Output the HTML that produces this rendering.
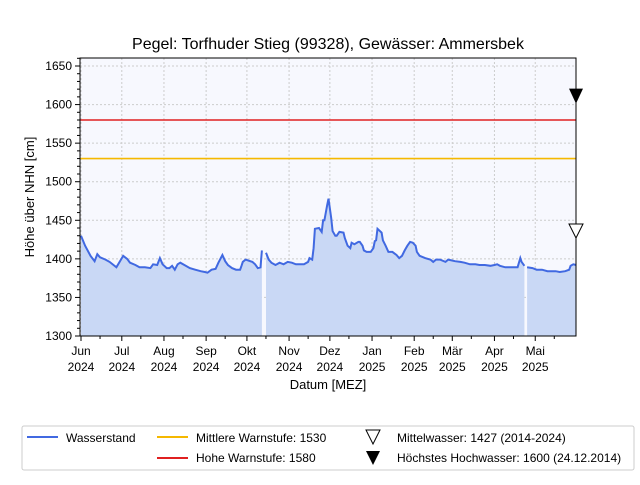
<!DOCTYPE html>
<html><head><meta charset="utf-8"><style>
body{margin:0;background:#fff}
svg text{font-family:"Liberation Sans",sans-serif;fill:#000}
</style></head><body>
<svg width="640" height="480" xmlns="http://www.w3.org/2000/svg" id="c">
<rect x="80" y="58" width="496" height="278" fill="#f7f8fe"/>
<g id="grid"></g>
<path id="area" fill="#c9d8f5" stroke="none"/>
<path id="line" fill="none" stroke="#4169e1" stroke-width="2"/>
<line id="mw" stroke="#f5b800" stroke-width="1.6"/>
<line id="hw" stroke="#e02020" stroke-width="1.6"/>
<rect x="80" y="58" width="496" height="278" fill="none" stroke="#000" stroke-width="1"/>
<g id="axes"></g>
<polygon id="mwMarker" fill="#fff" stroke="#000" stroke-width="1"/>
<polygon id="hhwMarker" fill="#000"/>
<text x="328" y="49" font-size="16" text-anchor="middle">Pegel:  Torfhuder Stieg (99328), Gewässer:  Ammersbek</text>
<text x="328" y="389" font-size="13" text-anchor="middle">Datum [MEZ]</text>
<text transform="translate(34,197) rotate(-90)" font-size="13" text-anchor="middle">Höhe über NHN [cm]</text>
<g>
<rect x="22" y="426" width="612" height="44" fill="#fff" stroke="#ccc" rx="2"/>
<line x1="27" y1="437" x2="58" y2="437" stroke="#4169e1" stroke-width="2"/>
<text x="66" y="442" font-size="12">Wasserstand</text>
<line x1="157" y1="437" x2="188" y2="437" stroke="#f5b800" stroke-width="2"/>
<text x="196" y="442" font-size="12">Mittlere Warnstufe: 1530</text>
<line x1="157" y1="458" x2="188" y2="458" stroke="#e02020" stroke-width="2"/>
<text x="196" y="462" font-size="12">Hohe Warnstufe: 1580</text>
<polygon points="366,430 380,430 373,444" fill="#fff" stroke="#000"/>
<text x="397" y="442" font-size="12">Mittelwasser: 1427 (2014-2024)</text>
<polygon points="366,451 380,451 373,465" fill="#000"/>
<text x="397" y="462" font-size="12">Höchstes Hochwasser: 1600 (24.12.2014)</text>
</g>
</svg>
<script>
const days=[0,3,7,10,12,14,18,21,26,28,31,34,36,40,43,47,51,53,56,58,60,63,65,67,69,71,73,76,80,84,88,91,93,96,99,101,104,106,108,111,114,117,118,119,121,126,128,130,132,133,134,136,138,140,143,146,149,152,155,158,161,164,167,168,170,171,172,175,177,178,179,181,182,184,185,187,188,190,193,194,196,198,199,201,204,205,207,208,210,213,215,216,217,218,221,222,224,226,229,232,234,236,238,240,242,244,246,247,249,253,257,259,261,264,268,270,275,279,282,286,290,293,297,301,304,306,308,312,315,319,321,323,324,326,327,328,332,335,339,343,349,352,356,359,360,362,364];
const levels=[1430,1417,1404,1397,1406,1402,1399,1396,1389,1395,1404,1400,1395,1392,1389,1389,1388,1393,1392,1401,1393,1388,1388,1391,1386,1393,1395,1392,1388,1386,1384,1383,1382,1386,1387,1395,1405,1397,1392,1388,1386,1386,1391,1396,1399,1396,1393,1388,1389,1411,null,1408,1399,1395,1392,1395,1393,1396,1395,1393,1393,1393,1396,1401,1399,1414,1439,1440,1435,1450,1450,1470,1478,1453,1436,1430,1430,1435,1434,1427,1417,1414,1421,1419,1422,1422,1417,1411,1409,1409,1414,1423,1424,1439,1434,1424,1417,1409,1409,1405,1401,1404,1411,1417,1422,1421,1417,1409,1404,1401,1399,1396,1399,1399,1396,1399,1397,1396,1395,1393,1393,1392,1392,1391,1392,1393,1391,1389,1389,1389,1389,1401,1396,1391,null,1389,1388,1386,1386,1384,1384,1383,1384,1386,1391,1393,1392];
const warnMid=1530, warnHigh=1580, meanWater=1427, highestFlood=1600;
const yTicks=[1300,1350,1400,1450,1500,1550,1600,1650];
const monthNames=["Jun","Jul","Aug","Sep","Okt","Nov","Dez","Jan","Feb","Mär","Apr","Mai"];
const monthYears=["2024","2024","2024","2024","2024","2024","2024","2025","2025","2025","2025","2025"];
const monthStartDays=[0,30,61,92,122,153,183,214,245,273,304,334];
const X0=81,PX=1.36,Y0=336,PY=0.7714;
const x=d=>X0+d*PX, y=v=>Y0-(v-1300)*PY;
const NS="http://www.w3.org/2000/svg";
function mk(tag,attrs,parent){const e=document.createElementNS(NS,tag);for(const k in attrs)e.setAttribute(k,attrs[k]);parent.appendChild(e);return e;}
const grid=document.getElementById('grid'),axes=document.getElementById('axes');
yTicks.forEach(t=>{
 const g=mk('line',{x1:80,x2:576,y1:y(t),y2:y(t),stroke:'#ccc','stroke-dasharray':'2,2'},grid);
 
 
 const tk=mk('line',{x1:75,x2:80,y1:y(t),y2:y(t),stroke:'#000'},axes);
 
 
 const tx=mk('text',{x:72,y:y(t)+4,'font-size':12,'text-anchor':'end'},axes);
 tx.textContent=t;
 
 
});
for(let v=1300;v<=1660;v+=10){if(v%50)mk('line',{x1:77,x2:80,y1:y(v),y2:y(v),stroke:'#000'},axes);}
monthStartDays.forEach((d,i)=>{
 const g=mk('line',{x1:x(d),x2:x(d),y1:58,y2:336,stroke:'#ccc','stroke-dasharray':'2,2'},grid);
 
 
 mk('line',{x1:x(d),x2:x(d),y1:336,y2:341,stroke:'#000'},axes);
 mk('line',{x1:x(d+14),x2:x(d+14),y1:336,y2:339,stroke:'#000'},axes);
 const tx=mk('text',{x:x(d),y:355,'font-size':12,'text-anchor':'middle'},axes);
 tx.textContent=monthNames[i];
 
 
 const ty=mk('text',{x:x(d),y:371,'font-size':12,'text-anchor':'middle'},axes);
 ty.textContent=monthYears[i];
 
 
});
let line='',area='',seg=[];
function flush(){if(seg.length){line+='M'+seg.map(p=>p.join(',')).join('L');area+='M'+seg[0][0]+','+Y0+'L'+seg.map(p=>p.join(',')).join('L')+'L'+seg[seg.length-1][0]+','+Y0+'Z';}seg=[];}
days.forEach((d,i)=>{if(levels[i]==null)flush();else seg.push([x(d).toFixed(1),y(levels[i]).toFixed(1)]);});
flush();
document.getElementById('line').setAttribute('d',line);
document.getElementById('area').setAttribute('d',area);
[['mw',warnMid],['hw',warnHigh]].forEach(([id,v])=>{const e=document.getElementById(id);e.setAttribute('x1',80);e.setAttribute('x2',576);e.setAttribute('y1',y(v));e.setAttribute('y2',y(v));});
const mx=576;
document.getElementById('mwMarker').setAttribute('points',`${mx-7},${y(meanWater)-14} ${mx+7},${y(meanWater)-14} ${mx},${y(meanWater)}`);
document.getElementById('hhwMarker').setAttribute('points',`${mx-7},${y(highestFlood)-16} ${mx+7},${y(highestFlood)-16} ${mx},${y(highestFlood)-1}`);
</script>
</body></html>
